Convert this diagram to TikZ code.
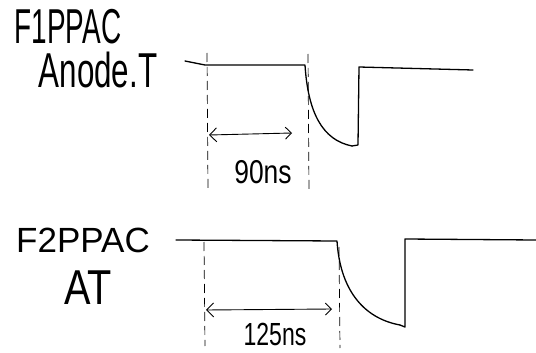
\documentclass[tikz,border=0pt]{standalone}
\usepackage{fontspec}
\setmainfont{Liberation Sans}
\usetikzlibrary{arrows.meta}
\tikzset{
  sig/.style={line width=1.3pt, line cap=round, line join=round},
  guide/.style={line width=0.7pt, dash pattern=on 9pt off 5pt},
  span/.style={line width=0.9pt, {Straight Barb[length=7pt,width=14pt]}-{Straight Barb[length=6pt,width=12pt]}},
  lbl/.style={inner sep=0pt, anchor=center}
}
\begin{document}
\begin{tikzpicture}[x=1pt,y=-1pt]
\useasboundingbox (0,0) rectangle (536,353);
% labels
\node[lbl, xscale=0.57, font=\fontsize{49}{49}\selectfont] (f1) at (68,27) {F1PPAC};
\node[lbl, xscale=0.64, font=\fontsize{49}{49}\selectfont] (an) at (98,70) {Anode.T};
\node[lbl, xscale=0.8, font=\fontsize{33}{33}\selectfont] (t1) at (263,172) {90ns};
\node[lbl, xscale=1.0, font=\fontsize{35}{35}\selectfont] (f2) at (83,240) {F2PPAC};
\node[lbl, xscale=0.81, font=\fontsize{49}{49}\selectfont] (at) at (88,288) {AT};
\node[lbl, xscale=0.72, font=\fontsize{32}{32}\selectfont] (t2) at (275,334) {125ns};
% top signal
\draw[sig] (185,61) -- (205,65) -- (305,65)
  .. controls (308,112) and (322,140) .. (352,146);
\draw[sig] (352,146) -- (358,145) -- (359,67) -- (473,70);
% top guides
\draw[guide] (207,53) -- (208,190);
\draw[guide] (308,54) -- (309,190);
\coordinate (a1) at (209,135);
\coordinate (b1) at (292,133);
\draw[span] (a1) -- (b1);
% bottom signal
\draw[sig] (176,240) -- (337,241)
  .. controls (340,288) and (362,318) .. (400,325);
\draw[sig] (400,325) -- (405,327) -- (405,239) -- (536,240);
% bottom guides
\draw[guide] (204,242) -- (205,346);
\draw[guide] (339,247) -- (340,348);
\coordinate (a2) at (206,310);
\coordinate (b2) at (332,309);
\draw[span] (a2) -- (b2);
\end{tikzpicture}
\end{document}
